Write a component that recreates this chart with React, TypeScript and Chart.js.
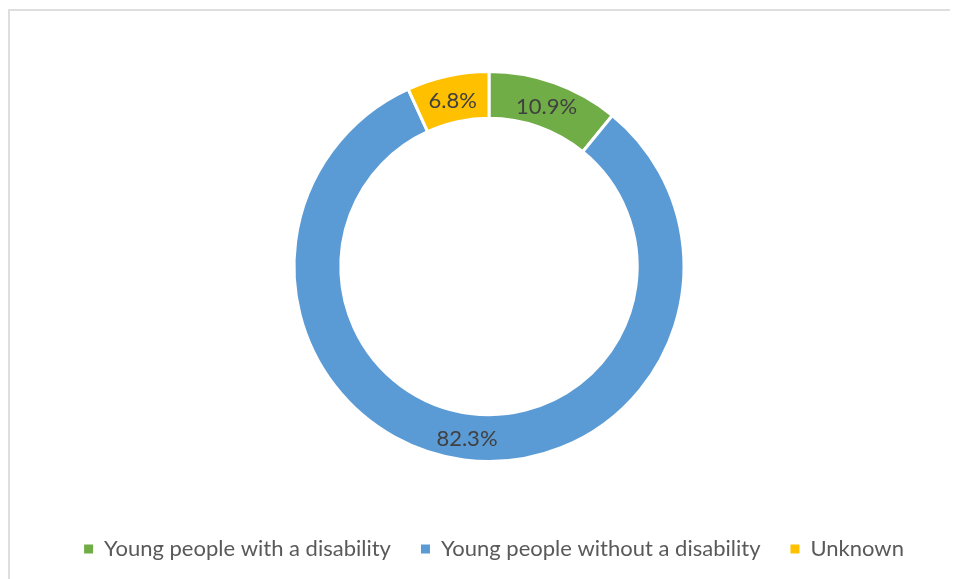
import React, { useEffect, useRef } from "react";
import { Chart, registerables } from "chart.js";

Chart.register(...registerables);

const categories = ["Young people with a disability", "Young people without a disability", "Unknown"];
const values = [10.9, 82.3, 6.8];
const valueLabels = ["10.9%", "82.3%", "6.8%"];
const colors = ["#70AD47", "#5B9BD5", "#FFC000"];

const sliceLabels = {
  id: "sliceLabels",
  afterDatasetsDraw(chart: any) {
    const ctx = chart.ctx;
    const meta = chart.getDatasetMeta(0);
    ctx.save();
    ctx.font = "22px Lato";
    ctx.fillStyle = "#404040";
    ctx.textAlign = "center";
    ctx.textBaseline = "middle";
    meta.data.forEach((arc: any, i: number) => {
      const p = arc.tooltipPosition();
      ctx.fillText(valueLabels[i], p.x, p.y + 2);
    });
    ctx.restore();
  },
};

const legendShift = {
  id: "legendShift",
  afterLayout(chart: any) {
    const lg = chart.legend;
    if (lg) {
      lg.left += 5;
      lg.right += 5;
    }
  },
};

export default function App() {
  const ref = useRef<HTMLCanvasElement>(null);
  useEffect(() => {
    const baseGen = (Chart as any).overrides.doughnut.plugins.legend.labels.generateLabels;
    const chart = new Chart(ref.current!, {
      type: "doughnut",
      data: {
        labels: categories,
        datasets: [
          {
            data: values,
            backgroundColor: colors,
            borderColor: "#ffffff",
            borderWidth: 3,
          },
        ],
      },
      options: {
        animation: false,
        responsive: false,
        cutout: "76%",
        layout: { padding: { top: 59, bottom: 9 } },
        plugins: {
          tooltip: { enabled: false },
          legend: {
            position: "bottom",
            title: { display: true, text: "", font: { size: 10 }, padding: { top: 33, bottom: 0 } },
            labels: {
              boxWidth: 9,
              boxHeight: 9,
              color: "#595959",
              font: { family: "Lato", size: 22 },
              padding: 30,
              generateLabels: (c: any) =>
                baseGen(c).map((it: any) => ({ ...it, lineWidth: 0, strokeStyle: it.fillStyle })),
            },
          },
        },
      },
      plugins: [sliceLabels, legendShift],
    });
    return () => chart.destroy();
  }, []);
  return (
    <div style={{ width: 950, height: 571, overflow: "hidden" }}>
      <div
        style={{
          marginTop: 1,
          width: 962,
          height: 600,
          border: "2px solid #dedede",
          boxSizing: "border-box",
          background: "#fff",
        }}
      >
        <canvas ref={ref} width={958} height={568} style={{ display: "block" }} />
      </div>
    </div>
  );
}
